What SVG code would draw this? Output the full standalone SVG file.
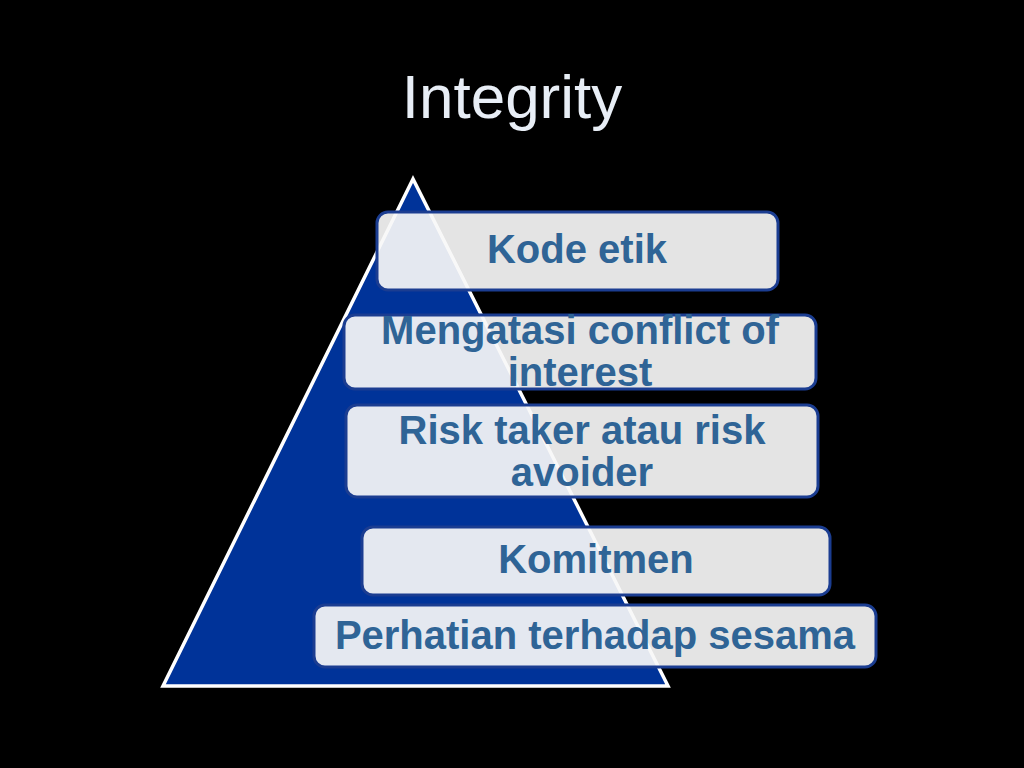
<svg xmlns="http://www.w3.org/2000/svg" width="1024" height="768" viewBox="0 0 1024 768">
<style>
.box{fill:#f7f7f7;fill-opacity:0.92;stroke:#1b3d91;stroke-width:3}
.lbl{font-family:"Liberation Sans",Arial,sans-serif;font-weight:bold;font-size:40px;fill:#2f6496;text-anchor:middle}
.title{font-family:"Liberation Sans",Arial,sans-serif;font-size:62px;fill:#e8eef6;text-anchor:middle}
</style>
<rect width="1024" height="768" fill="#000"/>
<text class="title" x="512" y="118">Integrity</text>
<g id="pyramid">
<polygon points="413,179 163,686 668,686" fill="#003399" stroke="#ffffff" stroke-width="3.5" stroke-linejoin="miter"/>
</g>
<g id="connectors"></g>
<g id="n1">
<rect class="box" x="377" y="212" width="401" height="78" rx="11"/>
<text class="lbl" x="577" y="263">Kode etik</text>
</g>
<g id="n2">
<rect class="box" x="344" y="315" width="472" height="74" rx="11"/>
<text class="lbl" x="580" y="344">Mengatasi conflict of</text>
<text class="lbl" x="580" y="386">interest</text>
</g>
<g id="n3">
<rect class="box" x="346" y="405" width="472" height="92" rx="11"/>
<text class="lbl" x="582" y="444">Risk taker atau risk</text>
<text class="lbl" x="582" y="486">avoider</text>
</g>
<g id="n4">
<rect class="box" x="362" y="527" width="468" height="68" rx="11"/>
<text class="lbl" x="596" y="573">Komitmen</text>
</g>
<g id="n5">
<rect class="box" x="314" y="605" width="562" height="62" rx="11"/>
<text class="lbl" x="595" y="649">Perhatian terhadap sesama</text>
</g>
</svg>
